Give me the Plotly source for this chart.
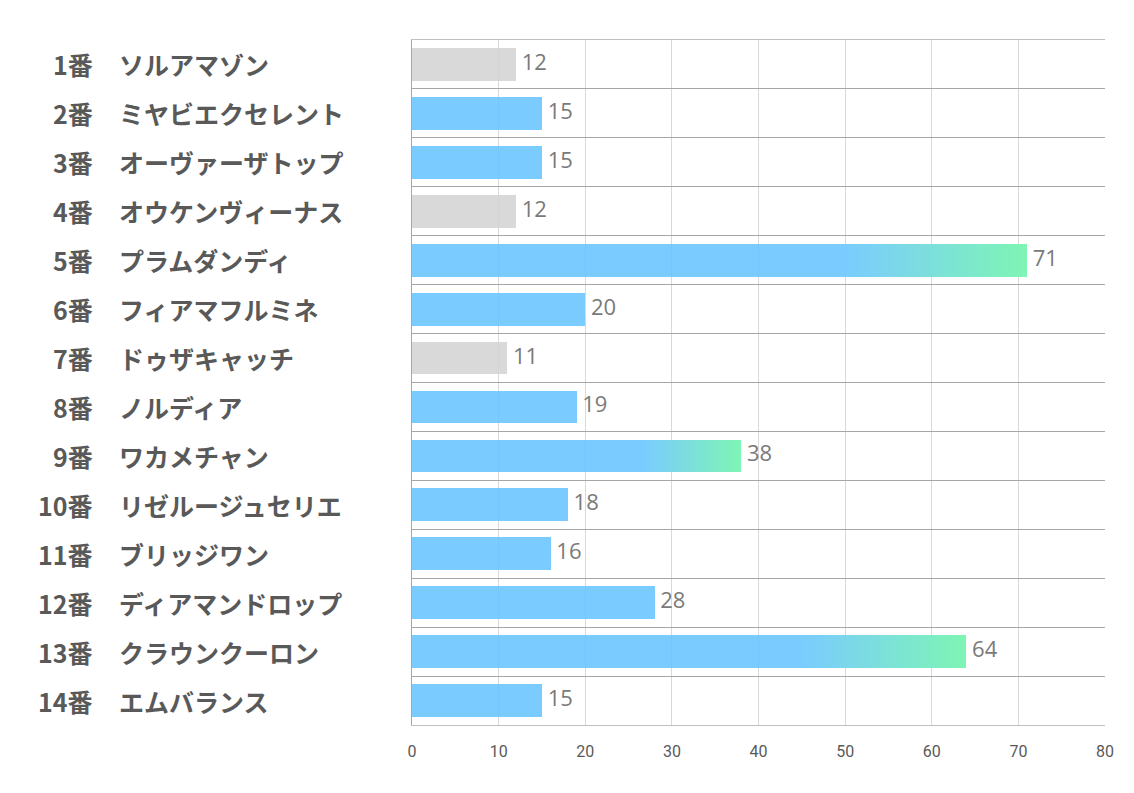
import plotly.graph_objects as go

# horse numbers, names and values
numbers = [1, 2, 3, 4, 5, 6, 7, 8, 9, 10, 11, 12, 13, 14]
names = ["ソルアマゾン", "ミヤビエクセレント", "オーヴァーザトップ", "オウケンヴィーナス",
         "プラムダンディ", "フィアマフルミネ", "ドゥザキャッチ", "ノルディア",
         "ワカメチャン", "リゼルージュセリエ", "ブリッジワン", "ディアマンドロップ",
         "クラウンクーロン", "エムバランス"]
values = [12, 15, 15, 12, 71, 20, 11, 19, 38, 18, 16, 28, 64, 15]
grayed = [1, 4, 7]
highlighted = [5, 9, 13]

BLUE = (99, 194, 255)
GRAY = (210, 210, 210)
ALPHA = 0.85
# blended (as seen on white) ends of the gradient
BLUE_SEEN = (122, 203, 255)
GREEN_SEEN = (126, 245, 180)
GRAD_START = 0.7
N_SEG = 40


def rgba(c):
    return f"rgba({c[0]},{c[1]},{c[2]},{ALPHA})"


def mix(a, b, t):
    return tuple(round(a[i] + (b[i] - a[i]) * t) for i in range(3))


ys = list(range(len(numbers)))
fig = go.Figure()

# solid part of each bar
solid_x, solid_c = [], []
for n, v in zip(numbers, values):
    solid_x.append(v * GRAD_START if n in highlighted else v)
    solid_c.append(rgba(GRAY) if n in grayed else rgba(BLUE))
fig.add_trace(go.Bar(x=solid_x, y=ys, orientation="h", width=0.67,
                     marker=dict(color=solid_c, line=dict(width=0)),
                     hoverinfo="skip", showlegend=False))

# gradient tail of highlighted bars, as thin opaque segments
seg_x, seg_y, seg_base, seg_c = [], [], [], []
for i, (n, v) in enumerate(zip(numbers, values)):
    if n not in highlighted:
        continue
    start = v * GRAD_START
    w = (v - start) / N_SEG
    for k in range(N_SEG):
        seg_x.append(w * 1.5 if k < N_SEG - 1 else w)
        seg_y.append(i)
        seg_base.append(start + k * w)
        c = mix(BLUE_SEEN, GREEN_SEEN, (k + 0.5) / N_SEG)
        seg_c.append(f"rgb({c[0]},{c[1]},{c[2]})")
fig.add_trace(go.Bar(x=seg_x, y=seg_y, base=seg_base, orientation="h", width=0.67,
                     marker=dict(color=seg_c, line=dict(width=0)),
                     hoverinfo="skip", showlegend=False))

# value labels
fig.add_trace(go.Scatter(x=values, y=ys, mode="text",
                         text=[f" {v}" for v in values], textposition="middle right",
                         textfont=dict(family="Open Sans", size=22, color="#7a7a7a"),
                         hoverinfo="skip", showlegend=False))

# row labels
for i, (n, name) in enumerate(zip(numbers, names)):
    fig.add_annotation(x=-0.4574, y=i, xref="paper", yref="y", text=f"<b>{n}番</b>",
                       xanchor="right", yanchor="middle", showarrow=False,
                       font=dict(family="Noto Sans CJK JP", size=25, color="#595959"))
    fig.add_annotation(x=-0.4257, y=i, xref="paper", yref="y", text=f"<b>{name}</b>",
                       xanchor="left", yanchor="middle", showarrow=False,
                       font=dict(family="Noto Sans CJK JP", size=25, color="#595959"))

fig.update_layout(
    width=1126, height=785,
    margin=dict(l=404, r=29, t=32, b=68),
    paper_bgcolor="white", plot_bgcolor="white",
    barmode="overlay", bargap=0,
    xaxis=dict(range=[0, 80], dtick=10, showgrid=True, gridcolor="#d9d9d9", gridwidth=1,
               zeroline=False, showline=True, linecolor="#bfbfbf", mirror=True,
               ticks="", ticklabelstandoff=12,
               tickfont=dict(family="Roboto", size=16, color="#595959")),
    yaxis=dict(range=[len(numbers) - 0.5, -0.5], tickvals=[i - 0.5 for i in range(len(numbers) + 1)],
               showticklabels=False, showgrid=True, gridcolor="#a6a6a6", gridwidth=1,
               zeroline=False, showline=True, linecolor="#a6a6a6", ticks=""),
)

fig.write_html("out.html")
